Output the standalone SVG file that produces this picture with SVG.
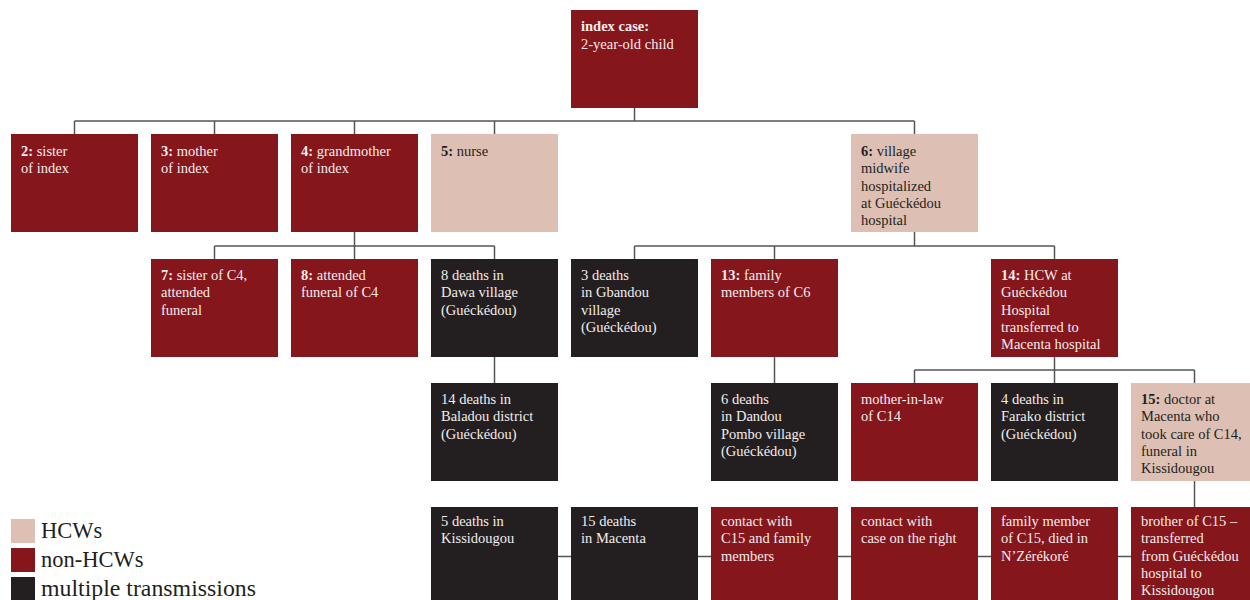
<svg xmlns="http://www.w3.org/2000/svg" width="1250" height="600" viewBox="0 0 1250 600">
<style>
.red{fill:#85161c}
.pink{fill:#ddbfb4}
.dark{fill:#231f20}
text{font-family:"Liberation Serif","Times New Roman",serif;font-size:14.5px}
.lt{fill:#f3ecec}
.dk{fill:#231f20}
.b{font-weight:bold}
.conn{fill:none;stroke:#555;stroke-width:1.5}
.leg{font-size:22.5px;fill:#231f20}
</style>
<rect width="1250" height="600" fill="#fff"/>
<g id="connectors" class="conn">
<path d="M634.5,108V121M74.5,121H914.5M74.5,121V134M214.5,121V134M354.5,121V134M494.5,121V134M914.5,121V134"/>
<path d="M354.5,232V246M214.5,246H494.5M214.5,246V259M354.5,246V259M494.5,246V259"/>
<path d="M914.5,232V246M634.5,246H1054.5M634.5,246V259M774.5,246V259M1054.5,246V259"/>
<path d="M494.5,357V383M774.5,357V383"/>
<path d="M1054.5,357V370M914.5,370H1194.5M914.5,370V383M1054.5,370V383M1194.5,370V383"/>
<path d="M1194.5,481V507"/>
<path d="M558,556.5H1131"/>
</g>
<g id="n1"><rect class="red" x="571" y="10" width="127" height="98"/><text class="lt" x="581" y="31"><tspan class="b">index case:</tspan><tspan x="581" dy="17.5">2-year-old child</tspan></text></g>
<g id="n2"><rect class="red" x="11" y="134" width="127" height="98"/><text class="lt" x="21" y="156"><tspan class="b">2:</tspan> sister<tspan x="21" dy="17.3">of index</tspan></text></g>
<g id="n3"><rect class="red" x="151" y="134" width="127" height="98"/><text class="lt" x="161" y="156"><tspan class="b">3:</tspan> mother<tspan x="161" dy="17.3">of index</tspan></text></g>
<g id="n4"><rect class="red" x="291" y="134" width="127" height="98"/><text class="lt" x="301" y="156"><tspan class="b">4:</tspan> grandmother<tspan x="301" dy="17.3">of index</tspan></text></g>
<g id="n5"><rect class="pink" x="431" y="134" width="127" height="98"/><text class="dk" x="441" y="156"><tspan class="b">5:</tspan> nurse</text></g>
<g id="n6"><rect class="pink" x="851" y="134" width="127" height="98"/><text class="dk" x="861" y="156"><tspan class="b">6:</tspan> village<tspan x="861" dy="17.3">midwife</tspan><tspan x="861" dy="17.3">hospitalized</tspan><tspan x="861" dy="17.3">at Guéckédou</tspan><tspan x="861" dy="17.3">hospital</tspan></text></g>
<g id="n7"><rect class="red" x="151" y="259" width="127" height="98"/><text class="lt" x="161" y="280"><tspan class="b">7:</tspan> sister of C4,<tspan x="161" dy="17.3">attended</tspan><tspan x="161" dy="17.3">funeral</tspan></text></g>
<g id="n8"><rect class="red" x="291" y="259" width="127" height="98"/><text class="lt" x="301" y="280"><tspan class="b">8:</tspan> attended<tspan x="301" dy="17.3">funeral of C4</tspan></text></g>
<g id="n9"><rect class="dark" x="431" y="259" width="127" height="98"/><text class="lt" x="441" y="280">8 deaths in<tspan x="441" dy="17.3">Dawa village</tspan><tspan x="441" dy="17.3">(Guéckédou)</tspan></text></g>
<g id="n10"><rect class="dark" x="571" y="259" width="127" height="98"/><text class="lt" x="581" y="280">3 deaths<tspan x="581" dy="17.3">in Gbandou</tspan><tspan x="581" dy="17.3">village</tspan><tspan x="581" dy="17.3">(Guéckédou)</tspan></text></g>
<g id="n13"><rect class="red" x="711" y="259" width="127" height="98"/><text class="lt" x="721" y="280"><tspan class="b">13:</tspan> family<tspan x="721" dy="17.3">members of C6</tspan></text></g>
<g id="n14"><rect class="red" x="991" y="259" width="127" height="98"/><text class="lt" x="1001" y="280"><tspan class="b">14:</tspan> HCW at<tspan x="1001" dy="17.3">Guéckédou</tspan><tspan x="1001" dy="17.3">Hospital</tspan><tspan x="1001" dy="17.3">transferred to</tspan><tspan x="1001" dy="17.3">Macenta hospital</tspan></text></g>
<g id="n11"><rect class="dark" x="431" y="383" width="127" height="98"/><text class="lt" x="441" y="404">14 deaths in<tspan x="441" dy="17.3">Baladou district</tspan><tspan x="441" dy="17.3">(Guéckédou)</tspan></text></g>
<g id="n12"><rect class="dark" x="711" y="383" width="127" height="98"/><text class="lt" x="721" y="404">6 deaths<tspan x="721" dy="17.3">in Dandou</tspan><tspan x="721" dy="17.3">Pombo village</tspan><tspan x="721" dy="17.3">(Guéckédou)</tspan></text></g>
<g id="n16"><rect class="red" x="851" y="383" width="127" height="98"/><text class="lt" x="861" y="404">mother-in-law<tspan x="861" dy="17.3">of C14</tspan></text></g>
<g id="n17"><rect class="dark" x="991" y="383" width="127" height="98"/><text class="lt" x="1001" y="404">4 deaths in<tspan x="1001" dy="17.3">Farako district</tspan><tspan x="1001" dy="17.3">(Guéckédou)</tspan></text></g>
<g id="n15"><rect class="pink" x="1131" y="383" width="127" height="98"/><text class="dk" x="1141" y="404"><tspan class="b">15:</tspan> doctor at<tspan x="1141" dy="17.3">Macenta who</tspan><tspan x="1141" dy="17.3">took care of C14,</tspan><tspan x="1141" dy="17.3">funeral in</tspan><tspan x="1141" dy="17.3">Kissidougou</tspan></text></g>
<g id="n18"><rect class="dark" x="431" y="507" width="127" height="98"/><text class="lt" x="441" y="526">5 deaths in<tspan x="441" dy="17.3">Kissidougou</tspan></text></g>
<g id="n19"><rect class="dark" x="571" y="507" width="127" height="98"/><text class="lt" x="581" y="526">15 deaths<tspan x="581" dy="17.3">in Macenta</tspan></text></g>
<g id="n20"><rect class="red" x="711" y="507" width="127" height="98"/><text class="lt" x="721" y="526">contact with<tspan x="721" dy="17.3">C15 and family</tspan><tspan x="721" dy="17.3">members</tspan></text></g>
<g id="n21"><rect class="red" x="851" y="507" width="127" height="98"/><text class="lt" x="861" y="526">contact with<tspan x="861" dy="17.3">case on the right</tspan></text></g>
<g id="n22"><rect class="red" x="991" y="507" width="127" height="98"/><text class="lt" x="1001" y="526">family member<tspan x="1001" dy="17.3">of C15, died in</tspan><tspan x="1001" dy="17.3">N’Zérékoré</tspan></text></g>
<g id="n23"><rect class="red" x="1131" y="507" width="127" height="98"/><text class="lt" x="1141" y="526">brother of C15 –<tspan x="1141" dy="17.3">transferred</tspan><tspan x="1141" dy="17.3">from Guéckédou</tspan><tspan x="1141" dy="17.3">hospital to</tspan><tspan x="1141" dy="17.3">Kissidougou</tspan></text></g>
<g id="legend">
<rect class="pink" x="11" y="519" width="24" height="24"/>
<rect class="red" x="11" y="548" width="24" height="24"/>
<rect class="dark" x="11" y="577" width="24" height="24"/>
<text class="leg" x="41" y="538">HCWs</text>
<text class="leg" x="41" y="567">non-HCWs</text>
<text class="leg" x="41" y="596" textLength="215" lengthAdjust="spacingAndGlyphs">multiple transmissions</text>
</g>
</svg>
